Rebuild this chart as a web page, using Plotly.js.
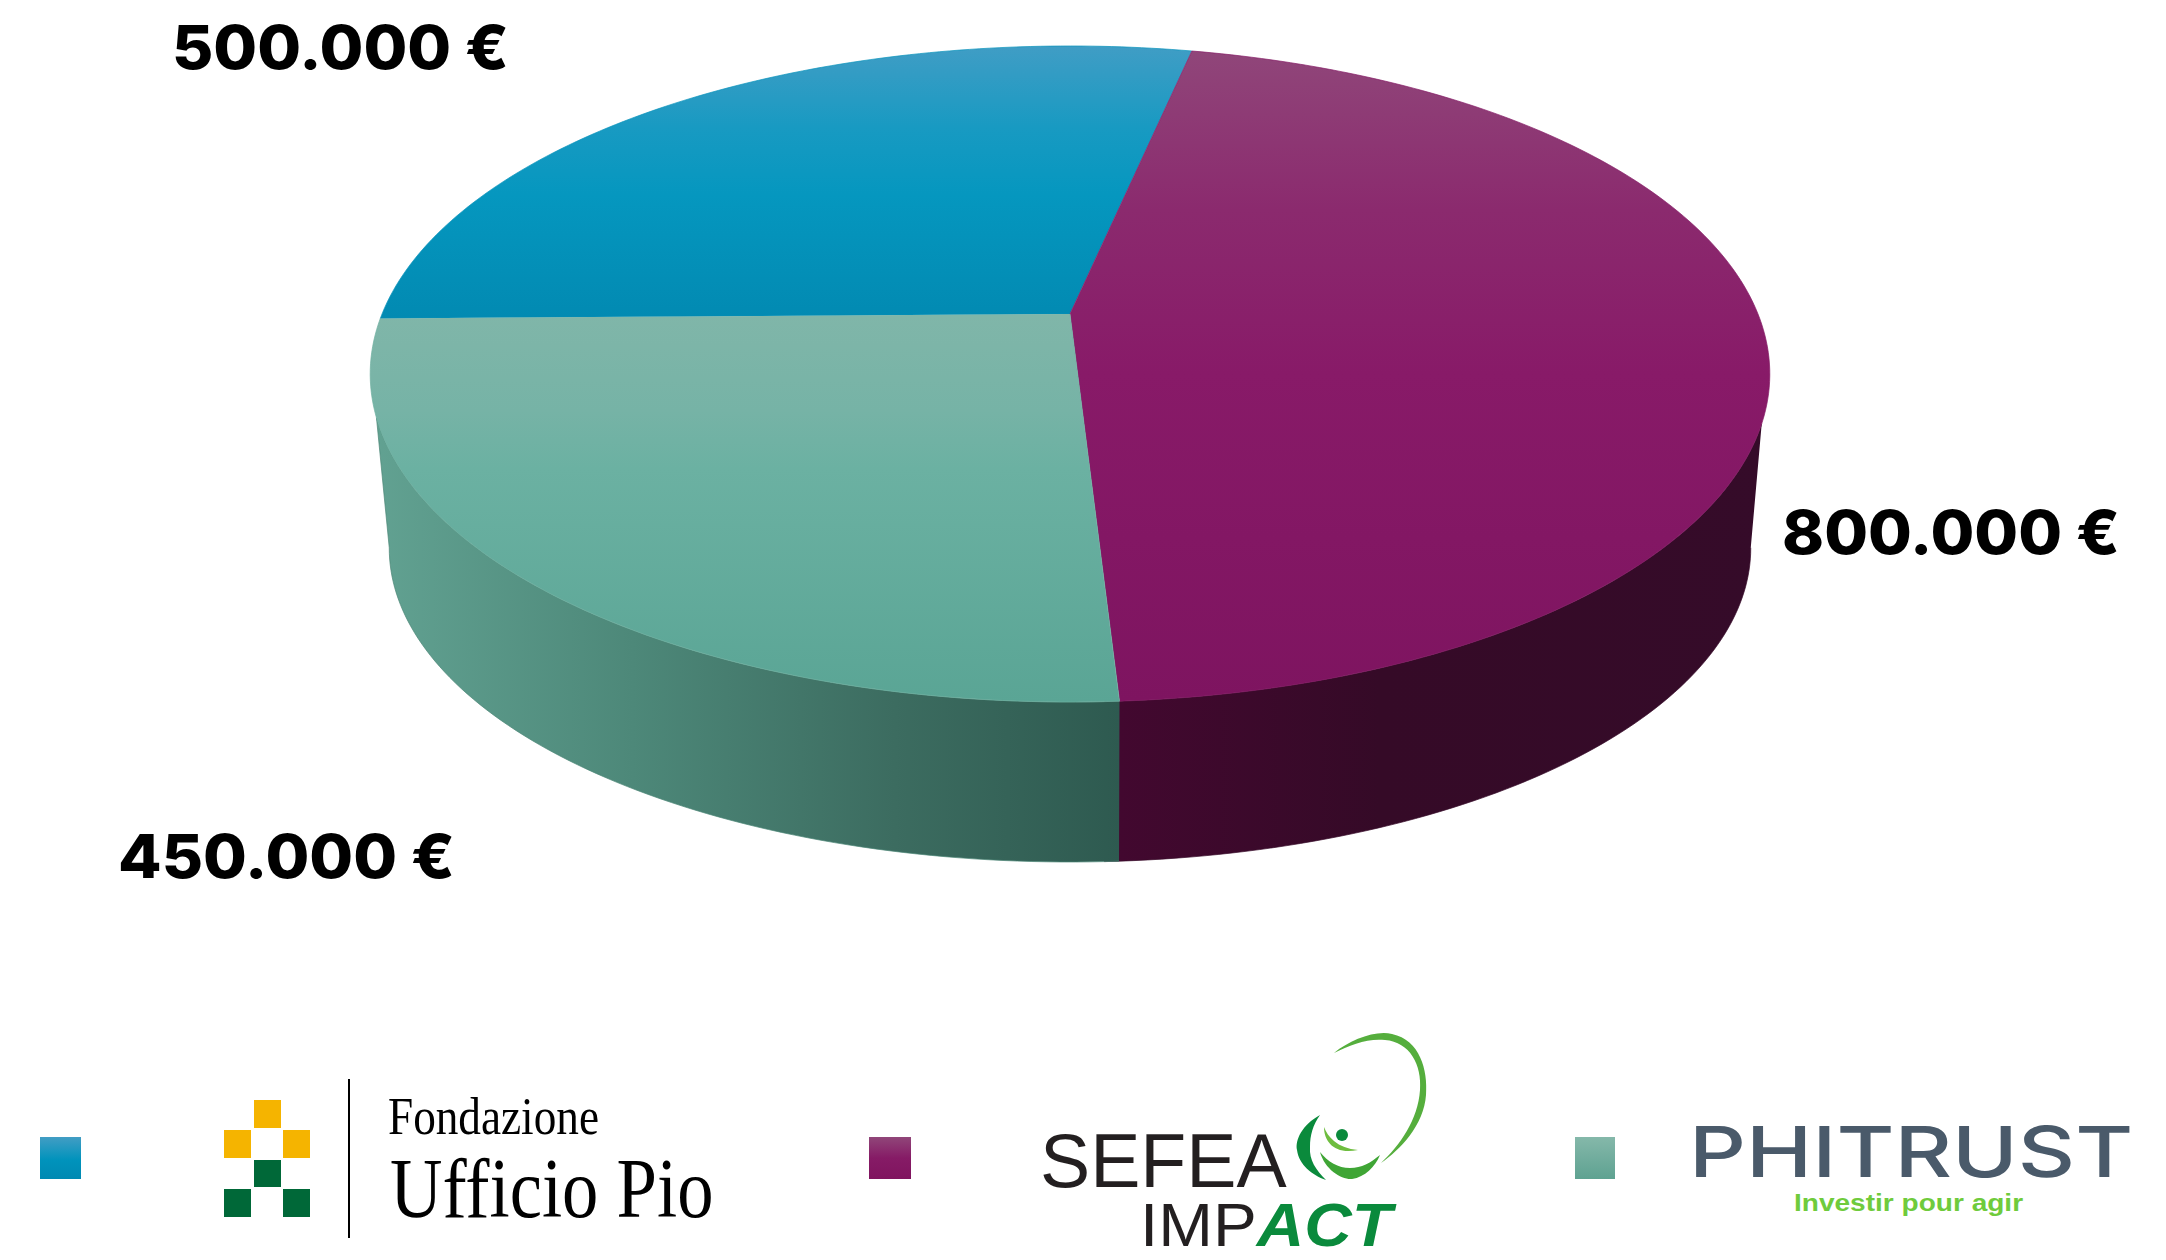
<!DOCTYPE html>
<html>
<head>
<meta charset="utf-8">
<script src="https://cdn.plot.ly/plotly-3.0.1.min.js"></script>
<style>html,body{margin:0;padding:0;background:#fff}</style>
</head>
<body>
<div id="chart" style="width:2166px;height:1260px"></div>
<script>
// Invested capital per partner
const partners = ["Fondazione Ufficio Pio", "SEFEA Impact", "Phitrust"];
const amounts = [500000, 800000, 450000];

// Gradient stops per partner, from light to dark
const topStops = [
  [[0, "#409dc5"], [0.3, "#189ac2"], [0.55, "#0597bf"], [1, "#028ab2"]],
  [[0, "#90477a"], [0.25, "#8b2a6e"], [0.5, "#881a68"], [1, "#7e1460"]],
  [[0, "#80b6a9"], [0.25, "#76b3a6"], [0.4, "#6bb1a2"], [1, "#5aa595"]]
];
const wallStops = [
  null,
  [[0, "#42082f"], [0.4, "#350a27"], [1, "#350b29"]],
  [[0, "#62a292"], [0.35, "#4d8879"], [0.7, "#3c6c60"], [1, "#2e5a50"]]
];

// Perspective mapping of a disc onto the page, in page pixels
const discTop = {cx: 1070, y0: 314, k: 688, b: -259.6, c: 0.1829};
const discBottom = {cx: 1070, y0: 485.2, k: 667, b: -204.4, c: 0.2};
const startAngle = -90.8;

function project(disc, deg, r) {
  const a = deg * Math.PI / 180, u = r * Math.sin(a), v = r * Math.cos(a);
  const w = 1 + disc.c * v;
  return [disc.cx + disc.k * u / w, (disc.y0 + disc.b * v) / w];
}
function arc(disc, from, to, r) {
  const pts = [], n = Math.max(2, Math.ceil(Math.abs(to - from)));
  for (let i = 0; i <= n; i++) pts.push(project(disc, from + (to - from) * i / n, r));
  return pts;
}
function polygon(pts, name, type, stops, start, stop, lineColor) {
  return {
    type: "scatter", mode: "lines", name: name, hoverinfo: "name",
    x: pts.map(p => p[0]), y: pts.map(p => p[1]),
    fill: "toself",
    fillgradient: {type: type, colorscale: stops, start: start, stop: stop},
    line: {width: 0.7, color: lineColor, shape: "linear", simplify: false}
  };
}

// Slice extents follow from the amounts
const total = amounts.reduce((s, v) => s + v, 0);
const angles = [];
let running = startAngle;
amounts.forEach(v => {
  const sweep = v / total * 360;
  angles.push([running, running + sweep]);
  running += sweep;
});

const traces = [];

// Side walls: only the front of the disc is visible
const wallRight = [109, 101.5];
const wallLeft = [252, 258.5];
const seam = angles[1][1];
traces.push(polygon(
  arc(discTop, wallRight[0], seam + 1, 1).concat(arc(discBottom, seam + 1, wallRight[1], 1)),
  partners[1], "horizontal", wallStops[1], 1120, 1770, "#360a28"));
traces.push(polygon(
  arc(discTop, seam, wallLeft[0], 1).concat(arc(discBottom, wallLeft[1], seam, 1)),
  partners[2], "horizontal", wallStops[2], 370, 1120, "#4a8576"));

// Top faces
const faceRanges = [[46, 318], [46, 702], [314, 702]];
const faceLines = ["#0a94bc", "#851b66", "#6fb0a1"];
[0, 1, 2].forEach(i => {
  const pts = [project(discTop, 0, 0)].concat(arc(discTop, angles[i][0], angles[i][1], 1));
  traces.push(polygon(pts, partners[i], "vertical", topStops[i], faceRanges[i][0], faceRanges[i][1], faceLines[i]));
});

// Legend keys
const keyBoxes = [[40, 81], [869, 911], [1575, 1615]];
const keyY = [1137, 1179];
const keyStops = [
  [[0, "#429dc4"], [0.55, "#0093bc"], [1, "#0089b2"]],
  [[0, "#904679"], [0.5, "#861b66"], [1, "#80145f"]],
  [[0, "#85b8aa"], [1, "#5ea291"]]
];
keyBoxes.forEach((box, i) => {
  const pts = [[box[0], keyY[0]], [box[1], keyY[0]], [box[1], keyY[1]], [box[0], keyY[1]], [box[0], keyY[0]]];
  const t = polygon(pts, partners[i], "vertical", keyStops[i], keyY[0], keyY[1], "rgba(0,0,0,0)");
  t.line.width = 0;
  traces.push(t);
});

// Amount labels
const euro = v => String(v).replace(/\B(?=(\d{3})+(?!\d))/g, ".") + " €";
const amountAnchors = [[170, 47], [1780, 532], [116, 856]];
const annotations = amounts.map((v, i) => ({
  xref: "x", yref: "y", x: amountAnchors[i][0], y: amountAnchors[i][1],
  text: euro(v), showarrow: false, xanchor: "left", yanchor: "middle",
  font: {family: "Inter, 'Open Sans', sans-serif", size: 61, color: "#000", weight: 800}
}));
const stretches = amounts.map(() => 1.04);

// Partner wordmarks
function mark(text, x, y, family, size, color, weight, stretch) {
  annotations.push({
    xref: "x", yref: "y", x: x, y: y, text: text, showarrow: false,
    xanchor: "left", yanchor: "middle", align: "left",
    font: {family: family, size: size, color: color, weight: weight}
  });
  stretches.push(stretch);
}
mark("Fondazione", 386, 1116, "'Liberation Serif', serif", 52, "#000", 400, 0.87);
mark("Ufficio Pio", 388, 1188, "'Liberation Serif', serif", 84, "#000", 400, 0.865);
mark("SEFEA", 1038, 1160, "'Liberation Sans', sans-serif", 76, "#231f20", 400, 0.99);
mark('IMP<span style="color:#0a8a3c"><b><i>ACT</i></b></span>', 1138, 1224, "'Liberation Sans', sans-serif", 62, "#231f20", 400, 1.06);
mark("PHITRUST", 1687, 1151, "Inter, sans-serif", 70, "#4a5a6a", 500, 1.27);
mark("Investir pour agir", 1792, 1203, "'Liberation Sans', sans-serif", 23, "#6fcb3c", 700, 1.22);

// Logo artwork
const shapes = [];
const rect = (x0, y0, x1, y1, c) => shapes.push({type: "rect", xref: "x", yref: "y", x0, y0, x1, y1, fillcolor: c, line: {width: 0}});
const blob = (d, c) => shapes.push({type: "path", xref: "x", yref: "y", path: d, fillcolor: c, line: {width: 0}});

rect(254, 1100, 281, 1128, "#f5b400");
rect(224, 1130, 251, 1158, "#f5b400");
rect(283, 1130, 310, 1158, "#f5b400");
rect(254, 1160, 281, 1187, "#006838");
rect(224, 1189, 251, 1217, "#006838");
rect(283, 1189, 310, 1217, "#006838");
rect(348, 1079, 350, 1238, "#000");

blob("M1334 1053 C1350 1040 1375 1030 1392 1034 C1420 1040 1428 1070 1426 1095 C1424 1125 1400 1150 1381 1163 C1400 1145 1418 1120 1420 1090 C1422 1065 1410 1042 1385 1040 C1368 1038 1350 1045 1334 1053 Z", "#55ae3d");
blob("M1320 1115 C1302 1125 1295 1140 1297 1150 C1299 1165 1312 1175 1326 1180 C1316 1170 1309 1160 1310 1147 C1310 1135 1313 1125 1320 1115 Z", "#0a8a3c");
blob("M1320 1152 C1325 1170 1342 1180 1352 1179 C1365 1177 1375 1167 1380 1155 C1370 1163 1362 1168 1350 1168 C1338 1168 1328 1162 1320 1152 Z", "#3fa535");
blob("M1324 1127 C1324 1142 1335 1155 1358 1150 C1348 1149 1340 1146 1334 1141 C1329 1137 1326 1132 1324 1127 Z", "#6ebd3f");
shapes.push({type: "circle", xref: "x", yref: "y", x0: 1336, x1: 1348, y0: 1129, y1: 1141, fillcolor: "#0a8a3c", line: {width: 0}});

const layout = {
  width: 2166, height: 1260,
  margin: {l: 0, r: 0, t: 0, b: 0},
  paper_bgcolor: "#fff", plot_bgcolor: "#fff",
  showlegend: false,
  xaxis: {range: [0, 2166], visible: false, fixedrange: true},
  yaxis: {range: [1260, 0], visible: false, fixedrange: true},
  annotations: annotations,
  shapes: shapes
};

Plotly.newPlot("chart", traces, layout, {displayModeBar: false, staticPlot: true}).then(gd => {
  // Wordmarks need a narrower or wider set than the installed faces provide
  gd.querySelectorAll(".annotation-text").forEach((el, i) => {
    const s = stretches[i];
    if (s === 1) return;
    const ox = el.getBBox().x;
    el.setAttribute("transform", `translate(${ox},0) scale(${s},1) translate(${-ox},0)`);
  });
});
</script>
</body>
</html>
